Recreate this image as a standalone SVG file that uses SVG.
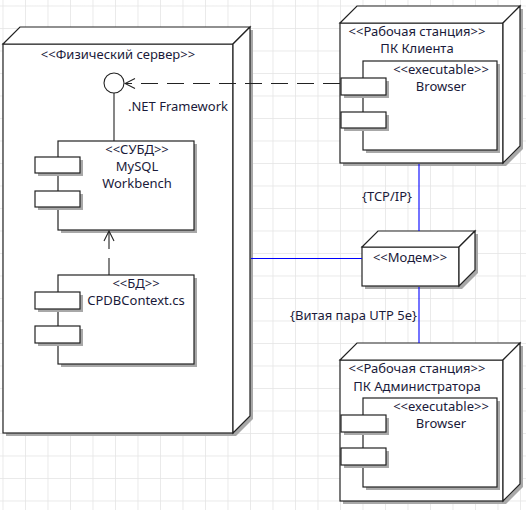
<svg xmlns="http://www.w3.org/2000/svg" width="526" height="510" viewBox="0 0 526 510">
<defs>
<pattern id="grid" x="2.5" y="5.5" width="22.5" height="22.5" patternUnits="userSpaceOnUse">
<path d="M0 0 H22.5 M0 0 V22.5" fill="none" stroke="#e4e4e4" stroke-width="1.5"/>
</pattern>
<marker id="open" viewBox="0 0 12 12" refX="11" refY="6" markerWidth="12" markerHeight="12" markerUnits="userSpaceOnUse" orient="auto">
<path d="M1 1 L11 6 L1 11" fill="none" stroke="#222" stroke-width="1.1"/>
</marker>
</defs>
<style>
.face{fill:#fff;stroke:#222;stroke-width:1.2}
.shadow{fill:#a8a8a8;stroke:none}
.t{font-family:"Noto Sans","Open Sans","DejaVu Sans",sans-serif;font-size:13px;fill:#1a1a3a}
.c{text-anchor:middle}
.link{fill:none;stroke:#0000ff;stroke-width:1.1}
.dep{fill:none;stroke:#222;stroke-width:1.1;stroke-dasharray:17 9}
</style>
<rect width="526" height="510" fill="#fff"/>
<rect width="526" height="510" fill="url(#grid)"/>

<g id="server">
<polygon class="shadow" transform="translate(3,3)" points="3,44 20,27 250,27 250,416 233,433 3,433"/>
<rect class="face" x="3" y="44" width="230" height="389"/>
<polygon class="face" points="3,44 20,27 250,27 233,44"/>
<polygon class="face" points="233,44 250,27 250,416 233,433"/>
<text class="t c" x="118" y="59">&lt;&lt;Физический сервер&gt;&gt;</text>
</g>

<g id="dotnet">
<path d="M114 93 V141" fill="none" stroke="#222" stroke-width="1.1"/>
<circle cx="114" cy="83" r="10" fill="#fff" stroke="#222" stroke-width="1.1"/>
<text class="t" x="128" y="111">.NET Framework</text>
</g>

<g id="mysql">
<rect class="shadow" x="61" y="144" width="136" height="89"/>
<rect class="face" x="58" y="141" width="136" height="89"/>
<rect class="shadow" x="38" y="160" width="45" height="16"/>
<rect class="face" x="35" y="157" width="45" height="16"/>
<rect class="shadow" x="38" y="194" width="45" height="16"/>
<rect class="face" x="35" y="191" width="45" height="16"/>
<text class="t c" x="137" y="154">&lt;&lt;СУБД&gt;&gt;</text>
<text class="t c" x="137" y="171">MySQL</text>
<text class="t c" x="137" y="188">Workbench</text>
</g>

<g id="cpdb">
<rect class="shadow" x="61" y="278" width="136" height="89"/>
<rect class="face" x="58" y="275" width="136" height="89"/>
<rect class="shadow" x="38" y="295" width="45" height="17"/>
<rect class="face" x="35" y="292" width="45" height="17"/>
<rect class="shadow" x="38" y="329" width="45" height="17"/>
<rect class="face" x="35" y="326" width="45" height="17"/>
<text class="t c" x="136" y="288">&lt;&lt;БД&gt;&gt;</text>
<text class="t c" x="136" y="305">CPDBContext.cs</text>
</g>

<g id="client">
<polygon class="shadow" transform="translate(3,3)" points="340,23 357,6 520,6 520,146 503,163 340,163"/>
<rect class="face" x="340" y="23" width="163" height="140"/>
<polygon class="face" points="340,23 357,6 520,6 503,23"/>
<polygon class="face" points="503,23 520,6 520,146 503,163"/>
<text class="t c" x="417" y="36">&lt;&lt;Рабочая станция&gt;&gt;</text>
<text class="t c" x="417" y="53">ПК Клиента</text>
</g>

<g id="client-browser">
<rect class="shadow" x="366" y="64" width="134" height="89"/>
<rect class="face" x="363" y="61" width="134" height="89"/>
<rect class="shadow" x="344" y="81" width="45" height="17"/>
<rect class="face" x="341" y="78" width="45" height="17"/>
<rect class="shadow" x="344" y="115" width="45" height="16"/>
<rect class="face" x="341" y="112" width="45" height="16"/>
<text class="t c" x="441" y="74">&lt;&lt;executable&gt;&gt;</text>
<text class="t c" x="441" y="91">Browser</text>
</g>

<g id="modem">
<polygon class="shadow" transform="translate(3,3)" points="362,247 378,231 475,231 475,270 459,286 362,286"/>
<rect class="face" x="362" y="247" width="97" height="39"/>
<polygon class="face" points="362,247 378,231 475,231 459,247"/>
<polygon class="face" points="459,247 475,231 475,270 459,286"/>
<text class="t c" x="410" y="262">&lt;&lt;Модем&gt;&gt;</text>
</g>

<g id="admin">
<polygon class="shadow" transform="translate(3,3)" points="340,360 357,343 520,343 520,484 503,501 340,501"/>
<rect class="face" x="340" y="360" width="163" height="141"/>
<polygon class="face" points="340,360 357,343 520,343 503,360"/>
<polygon class="face" points="503,360 520,343 520,484 503,501"/>
<text class="t c" x="417" y="373">&lt;&lt;Рабочая станция&gt;&gt;</text>
<text class="t c" x="417" y="391">ПК Администратора</text>
</g>

<g id="admin-browser">
<rect class="shadow" x="366" y="401" width="134" height="89"/>
<rect class="face" x="363" y="398" width="134" height="89"/>
<rect class="shadow" x="344" y="418" width="45" height="17"/>
<rect class="face" x="341" y="415" width="45" height="17"/>
<rect class="shadow" x="344" y="451" width="45" height="17"/>
<rect class="face" x="341" y="448" width="45" height="17"/>
<text class="t c" x="441" y="411">&lt;&lt;executable&gt;&gt;</text>
<text class="t c" x="441" y="428">Browser</text>
</g>

<g id="connectors">
<path class="link" d="M251 258.5 H362"/>
<path class="link" d="M419 164 V231"/>
<path class="link" d="M419 287 V343"/>
<path class="dep" d="M340 83.5 H125" marker-end="url(#open)"/>
<path class="dep" d="M109 275 V231" marker-end="url(#open)"/>
<text class="t" x="362" y="201">{TCP/IP}</text>
<text class="t" x="290" y="320">{Витая пара UTP 5e}</text>
</g>
</svg>
